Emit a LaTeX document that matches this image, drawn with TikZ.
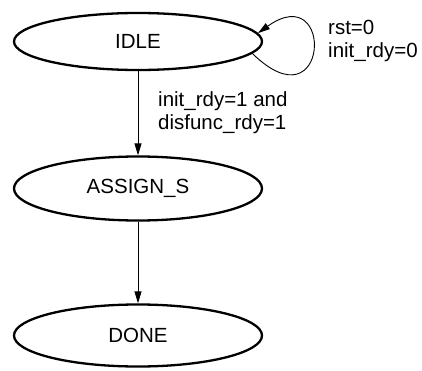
\documentclass[tikz,border=0pt]{standalone}
\usepackage{fontspec}
\setmainfont{Liberation Sans}
\usetikzlibrary{arrows.meta,shapes.geometric}
\tikzset{
	state/.style={ellipse, draw, line width=2.3pt, minimum width=248pt, inner sep=0pt, font=\fontsize{20.5}{23}\selectfont},
	trans/.style={-{Triangle[length=12pt,width=7pt]}, line width=0.9pt},
	cond/.style={align=left, anchor=west, inner sep=0pt, font=\fontsize{20.5}{23}\selectfont}
}
\begin{document}
\begin{tikzpicture}[x=1pt,y=1pt]
		%%%%% START %%%%%
		\useasboundingbox (0,0) rectangle (422,370);
		
		\node[state, minimum height=57pt] (idle) at (138, 328.5) {IDLE};
		\node[state, minimum height=64pt] (assign) at (138, 181.5) {ASSIGN\_S};
		\node[state, minimum height=62pt] (done) at (138, 34.5) {DONE};
		
		\draw[trans] (idle.-6) .. controls +(77,-75) and +(77,55) .. (idle.4);
		\node[cond] (selfcond) at (328, 329) {rst=0\\init\_rdy=0};
		
		\draw[trans] (idle) -- (assign);
		\node[cond] (gocond) at (158, 257) {init\_rdy=1 and\\disfunc\_rdy=1};
		
		\draw[trans] (assign) -- (done);
		%%%%% END %%%%%
\end{tikzpicture}
\end{document}
